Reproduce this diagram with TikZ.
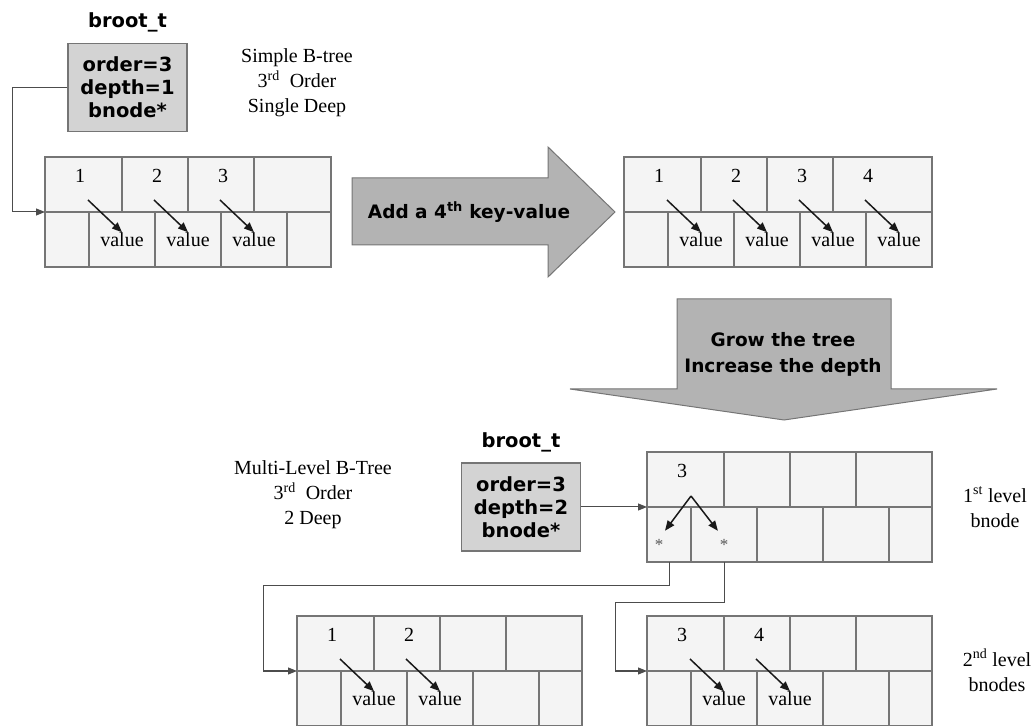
\documentclass[tikz,border=0pt]{standalone}
\usepackage{fontspec}
\usepackage{tikz}
\setmainfont{Liberation Serif}
\newfontfamily\boxfont{DejaVu Sans}
\usetikzlibrary{arrows.meta,positioning,calc}
\definecolor{boxgray}{HTML}{D3D3D3}
\definecolor{arrowgray}{HTML}{B3B3B3}
\definecolor{cellfill}{HTML}{F4F4F4}
\definecolor{edgegray}{HTML}{757575}

% one bnode: name, left x, top y, width, keys
\newcommand{\bnode}[5]{%
  \pgfmathsetmacro{\lastkey}{#4-209}%
  \pgfmathsetmacro{\lastptr}{#4-242}%
  \node[cell, minimum width=77pt] (#1-k1) at (#2,#3) {};
  \node[cell, minimum width=66pt] (#1-k2) at (#1-k1.north east) {};
  \node[cell, minimum width=66pt] (#1-k3) at (#1-k2.north east) {};
  \node[cell, minimum width=\lastkey pt] (#1-k4) at (#1-k3.north east) {};
  \node[cell, minimum width=44pt] (#1-p1) at (#1-k1.south west) {};
  \node[cell, minimum width=66pt] (#1-p2) at (#1-p1.north east) {};
  \node[cell, minimum width=66pt] (#1-p3) at (#1-p2.north east) {};
  \node[cell, minimum width=66pt] (#1-p4) at (#1-p3.north east) {};
  \node[cell, minimum width=\lastptr pt] (#1-p5) at (#1-p4.north east) {};
  \foreach \k [count=\i] in {#5} {
    \node[keytxt] (#1-n\i) at ($(#1-k\i.south west)+(35,36)$) {\k};
  }%
}
% key -> value pointers of a bnode: name, number of keys
\newcommand{\bvalues}[2]{%
  \foreach \i [evaluate=\i as \j using int(\i+1)] in {1,...,#2} {
    \node[valtxt] (#1-v\i) at (#1-p\j) {value};
    \coordinate (#1-s\i) at ($(#1-p\i.north east)+(-1,12)$);
    \draw[keyptr] (#1-s\i) -- (#1-v\i.north);
  }%
}

\begin{document}
\begin{tikzpicture}[x=1pt, y=1pt,
    cell/.style={rectangle, draw=edgegray, fill=cellfill, line width=1.3pt, minimum height=55pt, inner sep=0pt, outer sep=0pt, anchor=north west},
    rootbox/.style={rectangle, draw=edgegray, fill=boxgray, line width=1.2pt, minimum width=119pt, minimum height=88pt, align=center, font=\boxfont\bfseries\fontsize{19.5}{23}\selectfont},
    roottitle/.style={inner sep=0pt, text depth=0pt, font=\boxfont\bfseries\fontsize{19.5}{23}\selectfont},
    note/.style={align=center, font=\fontsize{20}{25}\selectfont},
    keytxt/.style={inner sep=0pt, font=\fontsize{20}{24}\selectfont},
    valtxt/.style={inner sep=0pt, font=\fontsize{20}{24}\selectfont},
    startxt/.style={inner sep=0pt, text=black!65, font=\fontsize{17}{18}\selectfont},
    bigarrow/.style={draw=edgegray, fill=arrowgray, line width=1pt},
    arrowtxt/.style={align=center, font=\boxfont\bfseries\fontsize{18.5}{26}\selectfont},
    link/.style={-{Triangle[length=9pt, width=7pt]}, line width=1pt, draw=black!70},
    keyptr/.style={-{Triangle[length=10pt, width=8pt]}, line width=1.5pt, draw=black!90}
  ]
    \useasboundingbox (0,0) rectangle (1035,725);
    \clip (0,0) rectangle (1035,725);

    % single deep tree
    \node[rootbox] (root1) at (127.5,637.5) {order=3\\depth=1\\bnode*};
    \node[roottitle, above=15pt of root1] (root1t) {broot\_t};
    \node[note] (simple) at (297,642) {Simple B-tree\\3\textsuperscript{rd}\ \ Order\\Single Deep};
    \bnode{tl}{45}{568}{286}{1,2,3}
    \bvalues{tl}{3}
    \draw[link] (root1.west) -- ++(-55,0) |- (tl-p1.north west);

    % add a key
    \draw[bigarrow] (352,547) -- (548,547) -- (548,578) -- (615,513) -- (548,448) -- (548,480) -- (352,480) -- cycle;
    \node[arrowtxt] (addkey) at (469,513) {Add a 4\textsuperscript{th} key-value};
    \bnode{tr}{624}{568}{308}{1,2,3,4}
    \bvalues{tr}{4}

    % grow the tree
    \draw[bigarrow] (677,426) -- (891,426) -- (891,336) -- (997,336) -- (784,305) -- (570,336) -- (677,336) -- cycle;
    \node[arrowtxt] (grow) at (783,371) {Grow the tree\\Increase the depth};

    % two level tree
    \node[note] (multi) at (313,230) {Multi-Level B-Tree\\3\textsuperscript{rd}\ \ Order\\2 Deep};
    \node[rootbox] (root2) at (521,218) {order=3\\depth=2\\bnode*};
    \node[roottitle, above=15pt of root2] (root2t) {broot\_t};
    \bnode{lv1}{647}{273}{285}{3}
    \coordinate (lv1-s) at ($(lv1-p1.north east)+(0,11)$);
    \node[startxt] (lv1-a1) at ($(lv1-p1.center)+(-10,-10)$) {*};
    \node[startxt] (lv1-a2) at ($(lv1-p2.center)+(0,-10)$) {*};
    \draw[keyptr, shorten >=10pt] (lv1-s) -- (lv1-a1.north);
    \draw[keyptr, shorten >=10pt] (lv1-s) -- (lv1-a2.north);
    \node[note] (lv1note) at (995,218) {1\textsuperscript{st} level\\bnode};
    \draw[link] (root2.east) -- (lv1-p1.north west);

    \bnode{bl}{297}{109}{285}{1,2}
    \bvalues{bl}{2}
    \bnode{br}{647}{109}{285}{3,4}
    \bvalues{br}{2}
    \node[note] (lv2note) at (997,55) {2\textsuperscript{nd} level\\bnodes};
    \draw[link] (lv1-p1.south) |- ++(-406,-24) |- (bl-p1.north west);
    \draw[link] (lv1-p2.south) |- ++(-108.5,-41) |- (br-p1.north west);
  \end{tikzpicture}
\end{document}
